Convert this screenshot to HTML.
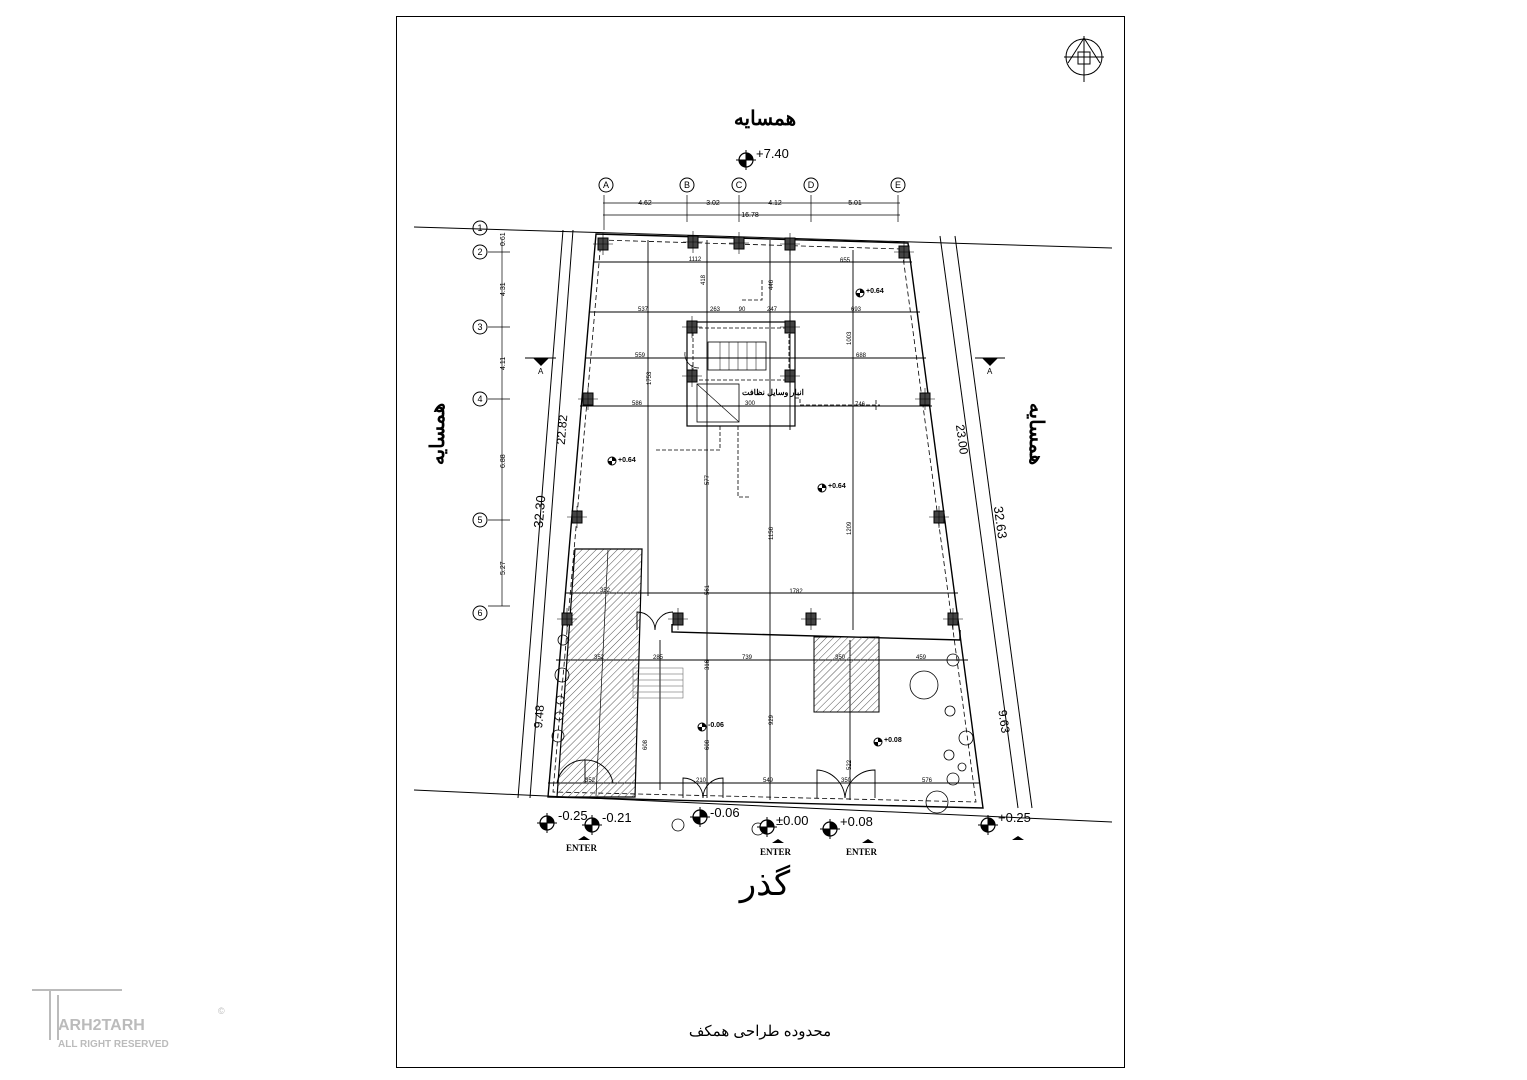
<!DOCTYPE html>
<html><head><meta charset="utf-8"><style>
body{margin:0;background:#fff;}
svg{display:block;font-family:"Liberation Sans","Noto Sans CJK SC",sans-serif;}
</style></head><body>
<svg width="1527" height="1080" viewBox="0 0 1527 1080" xmlns="http://www.w3.org/2000/svg">
<defs>
<pattern id="h" width="5" height="5" patternUnits="userSpaceOnUse" patternTransform="rotate(45)"><line x1="0" y1="0" x2="0" y2="5" stroke="#555" stroke-width="1"/></pattern>
<g id="lv"><circle r="7" fill="#fff" stroke="#000" stroke-width="1.2"/><path d="M0,-7 A7,7 0 0 1 7,0 L0,0Z M0,7 A7,7 0 0 1 -7,0 L0,0Z" fill="#000"/><line x1="-10" y1="0" x2="10" y2="0" stroke="#000"/><line x1="0" y1="-10" x2="0" y2="10" stroke="#000"/></g>
<g id="ls"><circle r="4" fill="#fff" stroke="#000"/><path d="M0,-4 A4,4 0 0 1 4,0 L0,0Z M0,4 A4,4 0 0 1 -4,0 L0,0Z" fill="#000"/></g>
<g id="col"><rect x="-5" y="-6" width="10" height="12" fill="#444" stroke="#000"/><line x1="-10" y1="0" x2="10" y2="0" stroke="#000" stroke-width=".6"/><line x1="0" y1="-11" x2="0" y2="11" stroke="#000" stroke-width=".6"/></g>
</defs>
<rect x="396.5" y="16.5" width="728" height="1051" fill="none" stroke="#000"/>
<!-- north -->
<g stroke="#000" fill="none"><circle cx="1084" cy="57" r="18"/><line x1="1084" y1="36" x2="1084" y2="82"/><line x1="1064" y1="57" x2="1104" y2="57"/><path d="M1068,63 L1084,38 L1100,63"/><rect x="1078" y="52" width="12" height="12"/></g>
<text x="765" y="125" font-size="20" text-anchor="middle" font-weight="bold" font-family="'Liberation Sans','Noto Sans CJK SC',sans-serif">همسایه</text>
<use href="#lv" x="746" y="160"/><text x="756" y="158" font-size="13">+7.40</text>
<!-- grid bubbles -->
<g font-size="9" text-anchor="middle" stroke="#000" fill="none">
<circle cx="606" cy="185" r="7"/><circle cx="687" cy="185" r="7"/><circle cx="739" cy="185" r="7"/><circle cx="811" cy="185" r="7"/><circle cx="898" cy="185" r="7"/>
<circle cx="480" cy="228" r="7"/><circle cx="480" cy="252" r="7"/><circle cx="480" cy="327" r="7"/><circle cx="480" cy="399" r="7"/><circle cx="480" cy="520" r="7"/><circle cx="480" cy="613" r="7"/>
</g>
<g font-size="9" text-anchor="middle"><text x="606" y="188">A</text><text x="687" y="188">B</text><text x="739" y="188">C</text><text x="811" y="188">D</text><text x="898" y="188">E</text>
<text x="480" y="231">1</text><text x="480" y="255">2</text><text x="480" y="330">3</text><text x="480" y="402">4</text><text x="480" y="523">5</text><text x="480" y="616">6</text></g>
<g stroke="#000" stroke-width=".7" fill="none">
<line x1="603" y1="203" x2="900" y2="203"/><line x1="603" y1="215" x2="900" y2="215"/>
<line x1="604" y1="195" x2="604" y2="230"/><line x1="687" y1="195" x2="687" y2="222"/><line x1="739" y1="195" x2="739" y2="222"/><line x1="811" y1="195" x2="811" y2="222"/><line x1="898" y1="195" x2="898" y2="222"/>
<line x1="502" y1="240" x2="502" y2="606"/>
<line x1="488" y1="252" x2="510" y2="252"/><line x1="488" y1="327" x2="510" y2="327"/><line x1="488" y1="399" x2="510" y2="399"/><line x1="488" y1="520" x2="510" y2="520"/><line x1="488" y1="606" x2="510" y2="606"/>
</g>
<g font-size="7" text-anchor="middle"><text x="645" y="205">4.62</text><text x="713" y="205">3.02</text><text x="775" y="205">4.12</text><text x="855" y="205">5.01</text><text x="750" y="217">16.78</text></g>
<g font-size="7"><text transform="translate(505,246) rotate(-90)">0.61</text><text transform="translate(505,296) rotate(-90)">4.31</text><text transform="translate(505,370) rotate(-90)">4.11</text><text transform="translate(505,468) rotate(-90)">6.88</text><text transform="translate(505,575) rotate(-90)">5.27</text></g>
<!-- side labels -->
<text transform="translate(444,434) rotate(-90)" font-size="20" font-weight="bold" text-anchor="middle">همسایه</text>
<text transform="translate(1030,434) rotate(90)" font-size="20" font-weight="bold" text-anchor="middle">همسایه</text>
<!-- section marks -->
<path d="M533,358 L549,358 L541,366Z"/><line x1="525" y1="358" x2="556" y2="358" stroke="#000"/><text x="538" y="374" font-size="8">A</text>
<path d="M982,358 L998,358 L990,366Z"/><line x1="975" y1="358" x2="1005" y2="358" stroke="#000"/><text x="987" y="374" font-size="8">A</text>
<!-- property lines -->
<g stroke="#000" stroke-width="1" fill="none">
<line x1="414" y1="227" x2="1112" y2="248"/>
<line x1="414" y1="790" x2="1112" y2="822"/>
<line x1="563" y1="230" x2="518" y2="798"/>
<line x1="573" y1="230" x2="530" y2="798"/>
<line x1="955" y1="236" x2="1032" y2="808"/>
<line x1="940" y1="236" x2="1018" y2="808"/>
</g>
<text transform="translate(544,512) rotate(-85)" font-size="13" text-anchor="middle">32.30</text>
<text transform="translate(566,430) rotate(-85)" font-size="12" text-anchor="middle">22.82</text>
<text transform="translate(543,717) rotate(-85)" font-size="12" text-anchor="middle">9.48</text>
<text transform="translate(996,523) rotate(82)" font-size="13" text-anchor="middle">32.63</text>
<text transform="translate(958,440) rotate(82)" font-size="12" text-anchor="middle">23.00</text>
<text transform="translate(1000,722) rotate(82)" font-size="12" text-anchor="middle">9.63</text>
<!-- building outline -->
<g stroke="#000" fill="none">
<polygon points="596,234 908,243 983,808 548,797" stroke-width="1.4"/>
<polygon points="601,240 902,249 976,802 553,792" stroke-width=".8" stroke-dasharray="5,3"/>
</g>
<!-- grid lines -->
<g stroke="#000" stroke-width=".9">
<line x1="594" y1="262" x2="912" y2="262"/>
<line x1="590" y1="312" x2="920" y2="312"/>
<line x1="585" y1="358" x2="926" y2="358"/>
<line x1="580" y1="406" x2="932" y2="406"/>
<line x1="566" y1="593" x2="958" y2="593"/>
<line x1="556" y1="660" x2="968" y2="660"/>
<line x1="548" y1="783" x2="980" y2="783"/>
<line x1="648" y1="240" x2="648" y2="596"/>
<line x1="707" y1="240" x2="707" y2="798"/>
<line x1="770" y1="240" x2="770" y2="800"/>
<line x1="790" y1="240" x2="790" y2="430"/>
<line x1="853" y1="250" x2="853" y2="630"/>
<line x1="660" y1="640" x2="660" y2="790"/>
<line x1="850" y1="640" x2="850" y2="800"/>
</g>
<!-- interior wall -->
<polyline points="672,624 672,632 960,640 960,630" fill="none" stroke="#000" stroke-width="1.4"/>
<!-- stair core -->
<g stroke="#000" fill="none" stroke-width="1.2">
<rect x="687" y="322" width="108" height="104"/>
<rect x="693" y="328" width="96" height="52" stroke-dasharray="4,2" stroke-width=".8"/>
<rect x="708" y="342" width="58" height="28" stroke-width=".8"/>
<rect x="697" y="384" width="42" height="38" stroke-width=".8"/>
<line x1="697" y1="384" x2="739" y2="422" stroke-width=".6"/>
<path d="M685,352 A14,14 0 0 0 699,368" stroke-width=".7"/>
<path d="M795,325 L795,350 M876,400 L876,412 M795,398 L800,398 L800,405 L880,405" stroke-dasharray="4,2" stroke-width=".8"/>
<path d="M762,280 L762,300 L740,300" stroke-dasharray="4,2" stroke-width=".8"/>
<path d="M720,426 L720,450 L655,450 M738,426 L738,497 L750,497" stroke-dasharray="4,2" stroke-width=".8"/>
</g>
<g stroke="#000" stroke-width=".5">
<line x1="720" y1="342" x2="720" y2="370"/><line x1="729" y1="342" x2="729" y2="370"/><line x1="738" y1="342" x2="738" y2="370"/><line x1="747" y1="342" x2="747" y2="370"/><line x1="756" y1="342" x2="756" y2="370"/>
</g>
<text x="742" y="395" font-size="8" font-weight="bold">انبار وسایل نظافت</text>
<!-- ramp hatch -->
<polygon points="575,549 642,549 635,797 557,797" fill="url(#h)" stroke="#000" stroke-width="1.2"/>
<line x1="608" y1="550" x2="596" y2="796" stroke="#000" stroke-width=".7"/>
<rect x="814" y="637" width="65" height="75" fill="url(#h)" stroke="#000"/>
<!-- stairs bottom -->
<g stroke="#555" stroke-width=".5"><rect x="633" y="668" width="50" height="30" fill="none"/><line x1="633" y1="674" x2="683" y2="674"/><line x1="633" y1="680" x2="683" y2="680"/><line x1="633" y1="686" x2="683" y2="686"/><line x1="633" y1="692" x2="683" y2="692"/></g>
<!-- doors -->
<g stroke="#000" fill="none" stroke-width=".9">
<path d="M557,783 A28,28 0 0 1 585,760 L585,783 M613,783 A28,28 0 0 0 585,760"/>
<path d="M683,798 L683,778 A20,20 0 0 1 703,798 M723,798 L723,778 A20,20 0 0 0 703,798"/>
<path d="M817,798 L817,770 A30,30 0 0 1 845,798 M875,798 L875,770 A30,30 0 0 0 845,798"/>
<path d="M637,630 L637,612 A18,18 0 0 1 655,630 M655,630 A18,18 0 0 1 673,612"/>
</g>
<!-- trees -->
<g stroke="#000" fill="none" stroke-width=".8">
<circle cx="924" cy="685" r="14"/><circle cx="953" cy="660" r="6"/><circle cx="950" cy="711" r="5"/><circle cx="966" cy="738" r="7"/><circle cx="949" cy="755" r="5"/><circle cx="962" cy="767" r="4"/><circle cx="953" cy="779" r="6"/><circle cx="937" cy="802" r="11"/>
<circle cx="563" cy="640" r="5"/><circle cx="562" cy="675" r="7"/><circle cx="560" cy="700" r="4"/><circle cx="559" cy="716" r="4"/><circle cx="558" cy="736" r="6"/>
<circle cx="678" cy="825" r="6"/><circle cx="758" cy="829" r="6"/>
</g>
<!-- columns -->
<use href="#col" x="603" y="244"/><use href="#col" x="693" y="242"/><use href="#col" x="739" y="243"/><use href="#col" x="790" y="244"/><use href="#col" x="904" y="252"/>
<use href="#col" x="692" y="327"/><use href="#col" x="790" y="327"/><use href="#col" x="692" y="376"/><use href="#col" x="790" y="376"/>
<use href="#col" x="588" y="399"/><use href="#col" x="925" y="399"/><use href="#col" x="577" y="517"/><use href="#col" x="939" y="517"/>
<use href="#col" x="567" y="619"/><use href="#col" x="678" y="619"/><use href="#col" x="811" y="619"/><use href="#col" x="953" y="619"/>
<!-- dims labels -->
<g font-size="6" text-anchor="middle">
<text x="695" y="261">1112</text><text x="845" y="262">655</text><text x="643" y="311">537</text><text x="715" y="311">263</text><text x="742" y="311">90</text><text x="772" y="311">247</text><text x="856" y="311">693</text>
<text x="640" y="357">559</text><text x="861" y="357">688</text><text x="637" y="405">586</text><text x="860" y="406">746</text><text x="750" y="405">300</text>
<text x="605" y="592">352</text><text x="796" y="593">1782</text><text x="599" y="659">352</text><text x="658" y="659">285</text><text x="747" y="659">739</text><text x="840" y="659">350</text><text x="921" y="659">459</text>
<text x="590" y="782">352</text><text x="701" y="782">210</text><text x="768" y="782">549</text><text x="846" y="782">350</text><text x="927" y="782">576</text>
</g>
<g font-size="6"><text transform="translate(705,285) rotate(-90)">418</text><text transform="translate(773,290) rotate(-90)">446</text><text transform="translate(851,345) rotate(-90)">1003</text><text transform="translate(651,385) rotate(-90)">1753</text><text transform="translate(709,485) rotate(-90)">577</text><text transform="translate(773,540) rotate(-90)">1156</text><text transform="translate(851,535) rotate(-90)">1209</text><text transform="translate(709,595) rotate(-90)">561</text><text transform="translate(709,670) rotate(-90)">316</text><text transform="translate(773,725) rotate(-90)">929</text><text transform="translate(851,770) rotate(-90)">522</text><text transform="translate(709,750) rotate(-90)">608</text><text transform="translate(647,750) rotate(-90)">608</text></g>
<!-- level marks small -->
<use href="#ls" x="860" y="293"/><text x="866" y="293" font-size="7" font-weight="bold">+0.64</text>
<use href="#ls" x="612" y="461"/><text x="618" y="462" font-size="7" font-weight="bold">+0.64</text>
<use href="#ls" x="822" y="488"/><text x="828" y="488" font-size="7" font-weight="bold">+0.64</text>
<use href="#ls" x="702" y="727"/><text x="708" y="727" font-size="7" font-weight="bold">-0.06</text>
<use href="#ls" x="878" y="742"/><text x="884" y="742" font-size="7" font-weight="bold">+0.08</text>
<!-- level marks big -->
<use href="#lv" x="547" y="823"/><text x="558" y="820" font-size="13">-0.25</text>
<use href="#lv" x="592" y="825"/><text x="602" y="822" font-size="13">-0.21</text>
<use href="#lv" x="700" y="817"/><text x="710" y="817" font-size="13">-0.06</text>
<use href="#lv" x="767" y="827"/><text x="776" y="825" font-size="13">±0.00</text>
<use href="#lv" x="830" y="829"/><text x="840" y="826" font-size="13">+0.08</text>
<use href="#lv" x="988" y="825"/><text x="998" y="822" font-size="13">+0.25</text>
<g font-size="9" font-weight="bold" font-family="'Liberation Serif',serif"><text x="566" y="851">ENTER</text><text x="760" y="855">ENTER</text><text x="846" y="855">ENTER</text></g>
<path d="M578,840 L584,836 L590,840Z M772,843 L778,839 L784,843Z M862,843 L868,839 L874,843Z M1012,840 L1018,836 L1024,840Z"/>
<text x="765" y="895" font-size="34" text-anchor="middle">گذر</text>
<text x="760" y="1036" font-size="15" text-anchor="middle">محدوده طراحی همکف</text>
<!-- watermark -->
<g fill="none" stroke="#bbb" stroke-width="2"><path d="M32,990 L122,990 M50,990 L50,1040 M58,995 L58,1040"/></g>
<text x="58" y="1030" font-size="16" fill="#bbb" font-weight="bold">ARH2TARH</text>
<text x="58" y="1047" font-size="10" fill="#bbb" font-weight="bold">ALL RIGHT RESERVED</text>
<text x="218" y="1014" font-size="9" fill="#bbb">©</text>
</svg>
</body></html>
